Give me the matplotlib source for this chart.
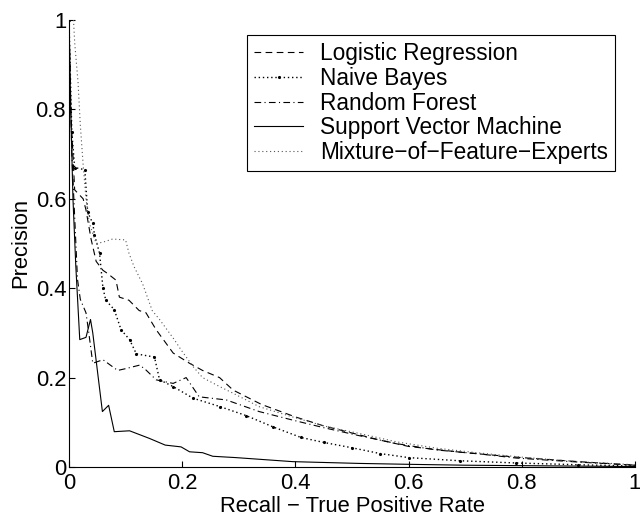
import matplotlib
matplotlib.use("Agg")
import matplotlib.pyplot as plt

# recall / precision
lr_recall = [0, 0.003, 0.01, 0.025, 0.03, 0.039, 0.048, 0.06, 0.068, 0.083, 0.089, 0.106,
             0.124, 0.136, 0.154, 0.184, 0.213, 0.236, 0.266, 0.29, 0.34, 0.4, 0.45, 0.5,
             0.55, 0.6, 0.7, 0.8, 0.9, 1.0]
lr_prec = [1.0, 0.8, 0.62, 0.6, 0.575, 0.51, 0.46, 0.44, 0.433, 0.418, 0.38, 0.373,
           0.35, 0.345, 0.307, 0.255, 0.232, 0.216, 0.2, 0.172, 0.14, 0.112, 0.092, 0.076,
           0.06, 0.046, 0.032, 0.021, 0.012, 0.004]

nb_recall = [0, 0.005, 0.01, 0.028, 0.033, 0.042, 0.045, 0.054, 0.06, 0.065, 0.08, 0.092,
             0.107, 0.119, 0.151, 0.16, 0.184, 0.219, 0.267, 0.313, 0.36, 0.41, 0.45, 0.5,
             0.55, 0.6, 0.69, 0.79, 0.9, 1.0]
nb_prec = [1.0, 0.75, 0.67, 0.665, 0.57, 0.545, 0.52, 0.478, 0.40, 0.373, 0.352, 0.307,
           0.285, 0.253, 0.246, 0.195, 0.18, 0.154, 0.135, 0.115, 0.09, 0.066, 0.055, 0.043,
           0.03, 0.021, 0.014, 0.009, 0.005, 0.002]

rf_recall = [0, 0.005, 0.015, 0.02, 0.03, 0.035, 0.042, 0.06, 0.086, 0.1, 0.125, 0.136,
             0.154, 0.184, 0.207, 0.23, 0.278, 0.336, 0.395, 0.45, 0.513, 0.58, 0.65, 0.72,
             0.79, 0.9, 1.0]
rf_prec = [1.0, 0.7, 0.42, 0.375, 0.345, 0.3, 0.232, 0.24, 0.216, 0.22, 0.228, 0.217,
           0.195, 0.187, 0.2, 0.157, 0.15, 0.124, 0.105, 0.088, 0.07, 0.052, 0.038, 0.03,
           0.02, 0.011, 0.004]

svm_recall = [0, 0.003, 0.007, 0.012, 0.019, 0.03, 0.038, 0.042, 0.059, 0.07, 0.08, 0.107,
              0.142, 0.17, 0.198, 0.213, 0.236, 0.254, 0.295, 0.395, 0.513, 0.6, 0.7, 0.8,
              0.9, 1.0]
svm_prec = [1.0, 0.8, 0.6, 0.45, 0.285, 0.29, 0.33, 0.3, 0.124, 0.138, 0.079, 0.081,
            0.064, 0.049, 0.045, 0.034, 0.032, 0.024, 0.021, 0.012, 0.008, 0.006, 0.004, 0.003,
            0.002, 0.001]

mofe_recall = [0.008, 0.01, 0.016, 0.02, 0.025, 0.03, 0.036, 0.048, 0.06, 0.077, 0.1, 0.106,
               0.115, 0.13, 0.147, 0.16, 0.186, 0.198, 0.219, 0.236, 0.266, 0.29, 0.336, 0.395,
               0.45, 0.513, 0.58, 0.65, 0.72, 0.8, 0.9, 1.0]
mofe_prec = [1.0, 0.95, 0.86, 0.765, 0.676, 0.6, 0.545, 0.5, 0.503, 0.51, 0.508, 0.478,
             0.448, 0.41, 0.35, 0.33, 0.285, 0.262, 0.225, 0.2, 0.18, 0.165, 0.135, 0.112,
             0.092, 0.075, 0.056, 0.042, 0.032, 0.022, 0.012, 0.005]

ticks = [0, 0.2, 0.4, 0.6, 0.8, 1]
tick_labels = ["0", "0.2", "0.4", "0.6", "0.8", "1"]

plt.rcParams["font.family"] = ["Liberation Sans", "DejaVu Sans"]
fs = 15.8

fig = plt.figure(figsize=(6.4, 5.19), dpi=100)
ax = fig.add_axes([69 / 640, 1 - 467 / 519, 566 / 640, 447 / 519])

lw = 0.8
ax.plot(lr_recall, lr_prec, color="black", lw=lw, linestyle=(0, (6, 4)),
        label="Logistic Regression")
ax.plot(nb_recall, nb_prec, color="black", lw=1.0, linestyle=(0, (1, 2)),
        marker=".", markersize=2.5, label="Naive Bayes")
ax.plot(rf_recall, rf_prec, color="black", lw=lw, linestyle=(0, (6, 3, 1, 3)),
        label="Random Forest")
ax.plot(svm_recall, svm_prec, color="black", lw=lw, linestyle="-",
        label="Support Vector Machine")
ax.plot(mofe_recall, mofe_prec, color="#555555", lw=lw, linestyle=(0, (1, 2.5)),
        label="Mixture\u2212of\u2212Feature\u2212Experts")

ax.set_xlim(0, 1)
ax.set_ylim(0, 1)
ax.set_xticks(ticks)
ax.set_xticklabels(tick_labels)
ax.set_yticks(ticks)
ax.set_yticklabels(tick_labels)
ax.tick_params(direction="in", length=4, width=0.8, labelsize=fs)
ax.tick_params(axis="x", pad=4.5)
ax.tick_params(axis="y", pad=2)
for side in ["top", "right"]:
    ax.spines[side].set_visible(False)
for side in ["left", "bottom"]:
    ax.spines[side].set_linewidth(0.8)

ax.set_xlabel("Recall \u2212 True Positive Rate", fontsize=fs, labelpad=1.5)
ax.set_ylabel("Precision", fontsize=fs, labelpad=3)

leg = ax.legend(loc="upper right", bbox_to_anchor=(0.965, 0.966), borderaxespad=0,
                prop={"size": 16.3}, frameon=True, fancybox=False, edgecolor="black",
                framealpha=1, labelspacing=0.08, borderpad=0.3, handlelength=2.2,
                handletextpad=0.75)
leg.get_frame().set_linewidth(0.8)

fig.savefig("out.png", dpi=100)
